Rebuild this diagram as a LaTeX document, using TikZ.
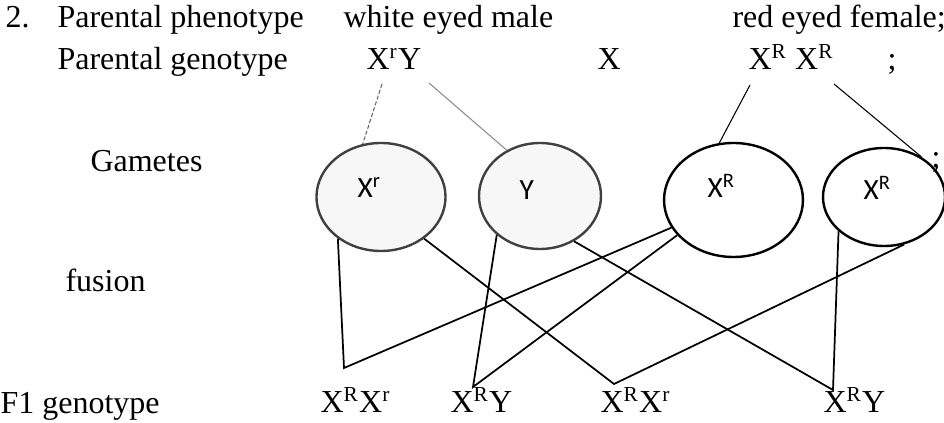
\documentclass[tikz,border=0pt]{standalone}
\usepackage{fontspec}
\setmainfont{Liberation Serif}
\newfontfamily\calibrifont{Carlito}
\usetikzlibrary{shapes.geometric}

\begin{document}
\begin{tikzpicture}[
    x=0.375pt, y=-0.375pt,
    every node/.style={inner sep=0pt, font=\fontsize{12}{14}\selectfont},
    txt/.style={anchor=base west},
    gamete/.style={anchor=base west, font=\calibrifont\fontsize{11}{13}\selectfont},
    male cell/.style={ellipse, draw=black!75, fill=black!3, line width=0.9pt},
    female cell/.style={ellipse, draw=black, fill=white, line width=0.9pt},
    cross/.style={line width=0.65pt},
    split/.style={line width=0.4pt},
  ]

  \useasboundingbox (0,0) rectangle (944,423);

  % Parents
  \node[txt] (num)    at (5,28)   {2.};
  \node[txt] (phen)   at (57,28)  {Parental phenotype};
  \node[txt] (male)   at (343,28) {white eyed male};
  \node[txt] (female) at (732,28) {red eyed female;};
  \node[txt] (geno)   at (57,70)  {Parental genotype};
  \node[txt] (mgeno)  at (366,70) {X\textsuperscript{r}Y};
  \node[txt] (times)  at (597,70) {X};
  \node[txt] (fgeno)  at (748,70) {X\textsuperscript{R} X\textsuperscript{R}};
  \node[txt] (semi)   at (887,70) {;};

  % Row labels
  \node[txt] (gam) at (90,172) {Gametes};
  \node[txt] (fus) at (65,292) {fusion};
  \node[txt] (fone) at (0,414) {F1 genotype};

  % Gametes
  \node[male cell, minimum width=48.4pt, minimum height=40.5pt]     (gXr)  at (381,197) {};
  \node[male cell, minimum width=45.75pt, minimum height=39.75pt]   (gY)   at (540,196) {};
  \node[female cell, minimum width=52.1pt, minimum height=42.75pt]  (gXRa) at (733.5,200) {};
  \node[female cell, minimum width=45.75pt, minimum height=36.75pt] (gXRb) at (884,197) {};

  \node[gamete] (lXr)  at (357,198) {X\textsuperscript{r}};
  \node[gamete] (lY)   at (519,200) {Y};
  \node[gamete] (lXRa) at (707,198) {X\textsuperscript{R}};
  \node[gamete] (lXRb) at (863,200) {X\textsuperscript{R}};
  \node[txt] (semib) at (931,168) {;};

  % F1 row
  \node[txt] (c1) at (320,413) {X\textsuperscript{R}X\textsuperscript{r}};
  \node[txt] (c2) at (450,413) {X\textsuperscript{R}Y};
  \node[txt] (c3) at (600,413) {X\textsuperscript{R}X\textsuperscript{r}};
  \node[txt] (c4) at (823,413) {X\textsuperscript{R}Y};

  % Line ends
  \coordinate (mX)  at (382,84);
  \coordinate (mY)  at (429,83);
  \coordinate (fXa) at (750,85);
  \coordinate (fXb) at (834,84);
  \coordinate (v1) at (344,368);
  \coordinate (v2) at (473,387);
  \coordinate (v3) at (614,384);
  \coordinate (v4) at (833,390);

  % Parents to gametes
  \draw[split, black!60, dash pattern=on 1.5pt off 0.8pt] (mX) -- (gXr.109);
  \draw[split, black!45] (mY) -- (gY.126);
  \draw[split] (fXa) -- (gXRa.104);
  \draw[split] (fXb) -- (gXRb.47);

  % Fusion
  \draw[cross] (gXr.224) -- (v1) -- (gXRa.204);
  \draw[cross] (gXr.316) -- (v3) -- (gXRb.293);
  \draw[cross] (gY.222) -- (v2) -- (gXRa.212);
  \draw[cross] (gY.307) -- (v4) -- (gXRb.217);

\end{tikzpicture}
\end{document}
